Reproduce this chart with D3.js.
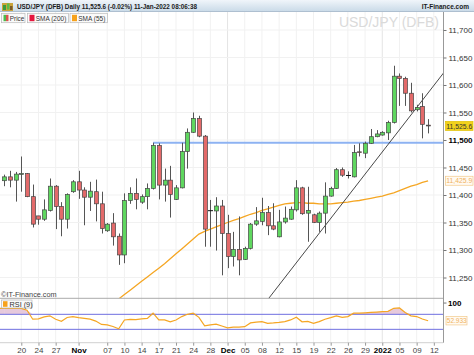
<!DOCTYPE html>
<html><head><meta charset="utf-8">
<script src="https://cdn.jsdelivr.net/npm/d3@7/dist/d3.min.js"></script>
<style>
html,body{margin:0;padding:0;background:#fff;}
svg{display:block;font-family:"Liberation Sans",Arial,sans-serif;}
</style></head>
<body>
<svg id="c" width="474" height="355"></svg>
<script>
// ---------- DATA ----------
const dates = [
"2021-10-17","2021-10-18","2021-10-19","2021-10-20","2021-10-21","2021-10-22","2021-10-24","2021-10-25","2021-10-26","2021-10-27","2021-10-28","2021-10-29","2021-10-31",
"2021-11-01","2021-11-02","2021-11-03","2021-11-04","2021-11-05","2021-11-07","2021-11-08","2021-11-09","2021-11-10","2021-11-11","2021-11-12","2021-11-14","2021-11-15","2021-11-16","2021-11-17","2021-11-18","2021-11-19","2021-11-21","2021-11-22","2021-11-23","2021-11-24","2021-11-25","2021-11-26","2021-11-28","2021-11-29","2021-11-30",
"2021-12-01","2021-12-02","2021-12-03","2021-12-05","2021-12-06","2021-12-07","2021-12-08","2021-12-09","2021-12-10","2021-12-12","2021-12-13","2021-12-14","2021-12-15","2021-12-16","2021-12-17","2021-12-19","2021-12-20","2021-12-21","2021-12-22","2021-12-23","2021-12-24","2021-12-26","2021-12-27","2021-12-28","2021-12-29","2021-12-30","2021-12-31",
"2022-01-02","2022-01-03","2022-01-04","2022-01-05","2022-01-06","2022-01-07","2022-01-09","2022-01-10","2022-01-11","2022-01-12"];

const open  = [11426,11433,11427,11438,11439,11397,11362,11356,11372,11416,11379,11356,11406,
11424,11409,11396,11406,11384,11335,11349,11325,11291,11390,11403,11387,11397,11412,11490,11418,11427,11392,11413,11479,11514,11539,11507,11371,11371,11380,
11330,11288,11301,11283,11303,11347,11352,11368,11344,11324,11351,11356,11373,11413,11367,11364,11350,11367,11398,11412,11446,11435,11433,11478.5,11476,11494,11506,
11509,11513,11532,11616,11612,11585,11555,11561,11527];
const high  = [11437,11444,11442,11470,11440,11419,11362,11392,11430,11418,11387,11403,11427,
11444,11414,11424,11428,11406,11349,11367,11330,11403,11414,11430,11401,11421,11495,11494,11448,11453,11418,11495,11521,11550,11544,11509,11391,11396,11391,
11364,11333,11361,11306,11349,11378,11395,11380,11385,11373,11379,11379,11427,11415,11415,11366,11370,11423,11415,11449,11450,11443,11491,11494,11497,11520,11518,
11516,11535,11635,11621,11615,11604,11564,11585,11538];
const low   = [11416,11414,11388,11406,11396,11341,11346,11353,11370,11338,11325,11339,11404,
11393,11345,11371,11352,11330,11333,11308,11273,11276,11384,11374,11384,11374,11410,11392,11388,11359,11391,11412,11448,11513,11505,11306,11306,11299,11254,
11267,11270,11254,11282,11301,11344,11345,11327,11336,11323,11348,11355,11370,11364,11315,11349,11333,11330,11397,11411,11433,11430,11432,11470,11467,11493,11505,
11508,11500,11530,11562,11562,11550,11552,11503,11512];
const close = [11433,11427,11438,11439,11397,11347,11356,11373,11416,11379,11356,11401,11424,
11409,11396,11407,11384,11339,11347,11324,11291,11390,11403,11392,11397,11412,11490,11418,11427,11401,11413,11479,11514,11539,11507,11338,11371.5,11380,11330,
11288,11301,11282,11303,11347,11353,11368,11344,11338,11351,11358,11374,11413,11366,11372,11350,11367,11398,11412,11446,11436,11435.5,11477,11477.5,11494,11506,11511,
11514,11532,11616,11612,11585,11553,11559,11528.5,11525.6];

// SMA(55), starting at candle index 19
const smaStart = 19;
const sma55 = [11204,11211,11219,11227,11235,11243,11251,11259,11267,11275,11284,11293,11302,11311,11320,11329,11334,11338,11342,11346,
11350,11354,11357,11361,11365,11368,11372,11375,11378,11381,11384,11385,11386,11386,11385,11385,11384,11384,11384,11385,11386,11387,
11389,11390,11392,11394,11396,11398,11401,11404,11408,11412,11416,11419,11423,11425.9];

// RSI(9)
const rsi9 = [86,85.6,85.6,86,81,57,58,63,66,57,51.5,61.5,64,61,59,57,52,43,42,37.5,31.5,55,56.5,56,58,59,73,55,55,50,55,64,70,73,62,39,42,44,39,34,36,36,37,
47,49,50.5,46,47,48.5,50.5,55,62,50,51,46,50.5,57,61,66,62,64,73,73,74,75,76,77,78,86,87,75,66,64,57.5,52.933];

// Annotations
const resistanceLevel = 11495, resistanceFrom = 26;
const trendLine = [[40,11129],[78,11639.4]];

// Axis ticks
const priceTicks = [11250,11300,11350,11400,11450,11500,11550,11600,11650,11700];
const dateTicks = ["2021-10-20","2021-10-24","2021-10-27","2021-11-01","2021-11-07","2021-11-10","2021-11-14","2021-11-17","2021-11-21","2021-11-24","2021-11-28","2021-12-01","2021-12-05","2021-12-08","2021-12-12","2021-12-15","2021-12-19","2021-12-22","2021-12-26","2021-12-29","2022-01-02","2022-01-05","2022-01-09","2022-01-12"];
const dateLabels = ["20","24","27","Nov","07","10","14","17","21","24","28","Dec","05","08","12","15","19","22","26","29","2022","05","09","12"];
const majorLabels = ["Nov","Dec","2022"];

// ---------- LAYOUT ----------
const svg = d3.select("#c");
const R = 443, pTop = 12, pBot = 298.3, rTop = 298.3, rBot = 342.7;
const candles = close.map((c,i)=>({i, o:open[i], h:high[i], l:low[i], c}));

const x = d3.scaleLinear().domain([-0.715, 76.6]).range([0, R]);
const y = d3.scaleLinear().domain([11212.2, 11732.7]).range([pBot, pTop]);
const yR = d3.scaleLinear().domain([0, 100]).range([340.6, 303.05]);
const xi = d => dates.indexOf(d);

const defs = svg.append("defs");
const g1 = defs.append("linearGradient").attr("id","hdr").attr("x1",0).attr("x2",0).attr("y1",0).attr("y2",1);
g1.append("stop").attr("offset","0%").attr("stop-color","#f0f5fa");
g1.append("stop").attr("offset","100%").attr("stop-color","#c9dae8");
defs.append("clipPath").attr("id","cp").append("rect").attr("x",0).attr("y",pTop).attr("width",R).attr("height",pBot-pTop);
defs.append("clipPath").attr("id","cr").append("rect").attr("x",0).attr("y",rTop).attr("width",R).attr("height",rBot-rTop);

// gridlines
const grid = svg.append("g");
grid.selectAll("line.v").data(dateTicks).join("line")
  .attr("x1",d=>x(xi(d))).attr("x2",d=>x(xi(d))).attr("y1",pTop).attr("y2",rBot)
  .attr("stroke",(d,i)=>majorLabels.includes(dateLabels[i])?"#e4e4e4":"#f1f1f1").attr("stroke-width",1);
grid.selectAll("line.h").data(priceTicks).join("line")
  .attr("x1",0).attr("x2",R).attr("y1",d=>y(d)).attr("y2",d=>y(d))
  .attr("stroke","#f1f1f1").attr("stroke-width",1);

// watermark
svg.append("text").attr("x",439).attr("y",27).attr("text-anchor","end")
  .attr("font-size",14).attr("fill","#dadada").text("USD/JPY (DFB)");

// price panel
const pp = svg.append("g").attr("clip-path","url(#cp)");
pp.append("path").datum(sma55)
  .attr("d", d3.line().x((d,k)=>x(k+smaStart)).y(d=>y(d)))
  .attr("fill","none").attr("stroke","#f5a623").attr("stroke-width",1.3);
pp.append("line").attr("x1",x(resistanceFrom)).attr("x2",R).attr("y1",y(resistanceLevel)).attr("y2",y(resistanceLevel))
  .attr("stroke","#8db2f2").attr("stroke-width",2);
pp.append("path").datum(trendLine).attr("d", d3.line().x(d=>x(d[0])).y(d=>y(d[1])))
  .attr("stroke","#333").attr("stroke-width",0.9).attr("fill","none");
const cg = pp.selectAll("g.cd").data(candles).join("g");
cg.append("line").attr("x1",d=>Math.round(x(d.i))+0.5).attr("x2",d=>Math.round(x(d.i))+0.5)
  .attr("y1",d=>y(d.h)).attr("y2",d=>y(d.l)).attr("stroke","#555").attr("stroke-width",1);
cg.filter(d=>Math.abs(d.o-d.c)>=1).append("rect")
  .attr("x",d=>Math.round(x(d.i))-1.5).attr("width",4)
  .attr("y",d=>y(Math.max(d.o,d.c))).attr("height",d=>Math.max(0.8,Math.abs(y(d.o)-y(d.c))))
  .attr("fill",d=>d.c>d.o?"#5fd75f":"#e36a6a").attr("stroke","#454545").attr("stroke-width",0.7);
cg.filter(d=>Math.abs(d.o-d.c)<1).append("line")
  .attr("x1",d=>Math.round(x(d.i))-2).attr("x2",d=>Math.round(x(d.i))+3)
  .attr("y1",d=>y(d.c)).attr("y2",d=>y(d.c)).attr("stroke","#111").attr("stroke-width",1);

// RSI panel
const rp = svg.append("g").attr("clip-path","url(#cr)");
rp.append("path").datum(rsi9)
  .attr("d", d3.area().x((d,k)=>x(k)).y0(yR(70)).y1(d=>yR(Math.max(d,70))))
  .attr("fill","#e6c9dc");
rp.append("path").datum([rsi9[0]])
  .attr("d", d=>`M0,${yR(70)}L0,${yR(d[0])}L${x(0)},${yR(d[0])}L${x(0)},${yR(70)}Z`).attr("fill","#e6c9dc");
[70,30].forEach(v=>rp.append("line").attr("x1",0).attr("x2",R).attr("y1",yR(v)).attr("y2",yR(v))
  .attr("stroke","#6f6fe0").attr("stroke-width",1));
rp.append("path").datum(rsi9)
  .attr("d", d3.line().x((d,k)=>x(k)).y(d=>yR(d)))
  .attr("fill","none").attr("stroke","#f5a623").attr("stroke-width",1.2);
rp.append("line").attr("x1",0).attr("x2",x(0)).attr("y1",yR(rsi9[0])).attr("y2",yR(rsi9[0]))
  .attr("stroke","#f5a623").attr("stroke-width",1.2);

// panel borders
svg.append("line").attr("x1",0).attr("x2",R).attr("y1",rTop).attr("y2",rTop).attr("stroke","#aaa").attr("stroke-width",1);
svg.append("line").attr("x1",0).attr("x2",R).attr("y1",rBot).attr("y2",rBot).attr("stroke","#d0d0d0").attr("stroke-width",1);
svg.append("line").attr("x1",R+0.5).attr("x2",R+0.5).attr("y1",pTop).attr("y2",rBot).attr("stroke","#999").attr("stroke-width",1);

// right price axis
const ya = svg.append("g").attr("transform",`translate(${R+0.5},0)`)
  .call(d3.axisRight(y).tickValues(priceTicks).tickSize(3).tickFormat(d3.format(",")));
ya.select(".domain").remove();
ya.selectAll("line").attr("stroke","#777");
ya.selectAll("text").attr("font-size",8).attr("font-family","Liberation Sans, Arial").attr("x",5)
  .attr("font-weight",d=>d===11500?"bold":"normal").attr("fill",d=>d===11500?"#000":"#333");

// value tags
const tag = (yy, bg, stroke, col, txt) => {
  svg.append("rect").attr("x",445.5).attr("y",yy-4.5).attr("width",27.5).attr("height",9).attr("fill",bg).attr("stroke",stroke).attr("stroke-width",0.7);
  svg.append("text").attr("x",446.3).attr("y",yy+2.6).attr("font-size",6.8).attr("fill",col).text(txt);
};
tag(y(close[74]), "#f2d21c", "#e0c000", "#333", d3.format(",.1f")(close[74]));
tag(y(sma55[sma55.length-1]), "#fffaf2", "#f3c98a", "#f0b260", d3.format(",.1f")(sma55[sma55.length-1]));

// RSI axis label
svg.append("line").attr("x1",R+0.5).attr("x2",R+3.5).attr("y1",yR(100)).attr("y2",yR(100)).attr("stroke","#777");
svg.append("text").attr("x",448).attr("y",yR(100)+3).attr("font-size",8).attr("font-weight","bold").attr("fill","#000").text("100");
svg.append("rect").attr("x",446).attr("y",yR(rsi9[74])-4.2).attr("width",21).attr("height",8.4).attr("fill","#fffaf2").attr("stroke","#f3c98a").attr("stroke-width",0.7);
svg.append("text").attr("x",446.8).attr("y",yR(rsi9[74])+2.5).attr("font-size",6.5).attr("fill","#f0b260").text(d3.format(".3f")(rsi9[74]));

// bottom date axis
const xa = svg.append("g").attr("transform",`translate(0,${rBot})`)
  .call(d3.axisBottom(x).tickValues(dateTicks.map(xi)).tickSize(3).tickFormat((d,i)=>dateLabels[i]));
xa.select(".domain").remove();
xa.selectAll("line").attr("stroke","#999");
xa.selectAll("text").attr("font-size",8).attr("font-family","Liberation Sans, Arial").attr("dy",0).attr("y",10)
  .attr("fill",(d,i)=>majorLabels.includes(dateLabels[i])?"#000":"#444")
  .attr("font-weight",(d,i)=>majorLabels.includes(dateLabels[i])?"bold":"normal");

// header
svg.append("rect").attr("x",0).attr("y",0).attr("width",474).attr("height",11.5).attr("fill","url(#hdr)");
svg.append("line").attr("x1",0).attr("x2",474).attr("y1",11.5).attr("y2",11.5).attr("stroke","#9fb4c6").attr("stroke-width",0.8);
const ic = svg.append("g");
ic.append("rect").attr("x",2).attr("y",3).attr("width",11).attr("height",8).attr("fill","#c9a43a");
ic.append("rect").attr("x",3).attr("y",5).attr("width",3).attr("height",5).attr("fill","#3c9a3c");
ic.append("rect").attr("x",7).attr("y",3.5).attr("width",2.5).attr("height",6).attr("fill","#5bbd4b");
ic.append("rect").attr("x",10).attr("y",6).attr("width",2.5).attr("height",4).attr("fill","#7a5a2a");
svg.append("text").attr("x",17).attr("y",9.2).attr("font-size",8).attr("font-weight","bold").attr("fill","#1a1a1a")
  .attr("textLength",180).attr("lengthAdjust","spacingAndGlyphs")
  .text("USD/JPY (DFB) Daily 11,525.6 (-0.02%) 11-Jan-2022 08:06:38");
svg.append("text").attr("x",469).attr("y",9).attr("text-anchor","end").attr("font-size",6.5).attr("font-weight","bold").attr("fill","#1a1a1a")
  .text("IT-Finance.com");

// legend
const leg = [{t:"Price",x:1.5,w:23.5,tl:14.5},{t:"SMA (200)",x:27.5,w:41,tl:30.5,c:"#e5173f"},{t:"SMA (55)",x:70,w:37.5,tl:27,c:"#f7a21b"}];
leg.forEach(l=>{
  svg.append("rect").attr("x",l.x).attr("y",13.3).attr("width",l.w).attr("height",9.4).attr("fill","#fafafa").attr("stroke","#b8b8b8").attr("stroke-width",0.7);
  if(l.c){ svg.append("rect").attr("x",l.x+2).attr("y",14.8).attr("width",5).attr("height",6.4).attr("fill",l.c); }
  else {
    svg.append("rect").attr("x",l.x+2).attr("y",14.8).attr("width",2.5).attr("height",6.4).attr("fill","#4cbb4c");
    svg.append("rect").attr("x",l.x+4.5).attr("y",14.8).attr("width",2.5).attr("height",6.4).attr("fill","#d9534f");
  }
  svg.append("text").attr("x",l.x+8.3).attr("y",20.8).attr("font-size",7.5).attr("fill","#333")
    .attr("textLength",l.tl).attr("lengthAdjust","spacingAndGlyphs").text(l.t);
});

// copyright
svg.append("text").attr("x",1).attr("y",296.5).attr("font-size",7.3).attr("fill","#444").text("©IT-Finance.com");

// RSI legend
svg.append("rect").attr("x",1.5).attr("y",300).attr("width",30.5).attr("height",8).attr("fill","#fafafa").attr("stroke","#b8b8b8").attr("stroke-width",0.7);
svg.append("rect").attr("x",3).attr("y",301.2).attr("width",4.5).attr("height",5.6).attr("fill","#f7a21b");
svg.append("text").attr("x",9.5).attr("y",306.8).attr("font-size",7.3).attr("fill","#333").text("RSI (9)");
</script>
</body></html>
